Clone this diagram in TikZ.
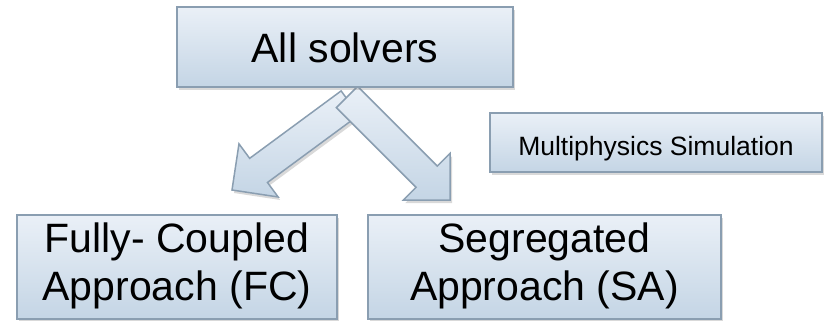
\documentclass[tikz,border=0pt]{standalone}
\usepackage{fontspec}
\setmainfont{Liberation Sans}
\usetikzlibrary{calc,shadows}

\definecolor{boxtop}{RGB}{234,240,247}
\definecolor{boxbot}{RGB}{196,213,229}
\definecolor{boxline}{RGB}{138,158,177}

\tikzset{
  solverbox/.style={draw=boxline, line width=1.5pt, top color=boxtop, bottom color=boxbot,
    drop shadow={opacity=0.3, shadow xshift=2pt, shadow yshift=-3pt},
    align=center, inner sep=0pt},
  bigtext/.style={font=\fontsize{41}{48}\selectfont},
  smalltext/.style={font=\fontsize{26.5}{30}\selectfont},
  arrowbody/.style={draw=boxline, line width=1.5pt, line join=miter, top color=boxtop, bottom color=boxbot,
    drop shadow={opacity=0.3, shadow xshift=2pt, shadow yshift=-3pt}}
}

% block arrow from tail #1 to tip #2
\newcommand{\bigarrow}[2]{%
  \coordinate (#1-n) at ($(#2)!33pt!(#1)$);
  \path[arrowbody] ($(#1)!15pt!90:(#2)$) -- ($(#1-n)!15pt!90:(#2)$) -- ($(#1-n)!33pt!90:(#2)$)
    -- (#2) -- ($(#1-n)!33pt!-90:(#2)$) -- ($(#1-n)!15pt!-90:(#2)$) -- ($(#1)!15pt!-90:(#2)$) -- cycle;
}
% two centred lines, set a little low in the box
\newcommand{\twolines}[2]{\raisebox{-5pt}{\begin{tabular}{@{}c@{}}#1\\#2\end{tabular}}}

\begin{document}
\begin{tikzpicture}[x=1pt, y=-1pt]
\useasboundingbox (0,0) rectangle (824,321);

% Arrows below the top box
\coordinate (fctail) at (350,103);
\coordinate (fctip) at (232,190);
\coordinate (satail) at (347,97);
\coordinate (satip) at (450,200);
\bigarrow{fctail}{fctip}
\bigarrow{satail}{satip}

% Boxes
\node[solverbox, bigtext, minimum width=336pt, minimum height=80pt, text height=32pt, text depth=0pt] (all) at (345,47) {All solvers};
\node[solverbox, smalltext, minimum width=332pt, minimum height=59pt, text height=25pt, text depth=0pt] (multi) at (656,142.5) {Multiphysics Simulation};
\node[solverbox, bigtext, minimum width=320pt, minimum height=104pt] (fc) at (177,267) {\twolines{Fully- Coupled}{Approach (FC)}};
\node[solverbox, bigtext, minimum width=353pt, minimum height=104pt] (sa) at (544.5,267) {\twolines{Segregated}{Approach (SA)}};
\end{tikzpicture}
\end{document}
